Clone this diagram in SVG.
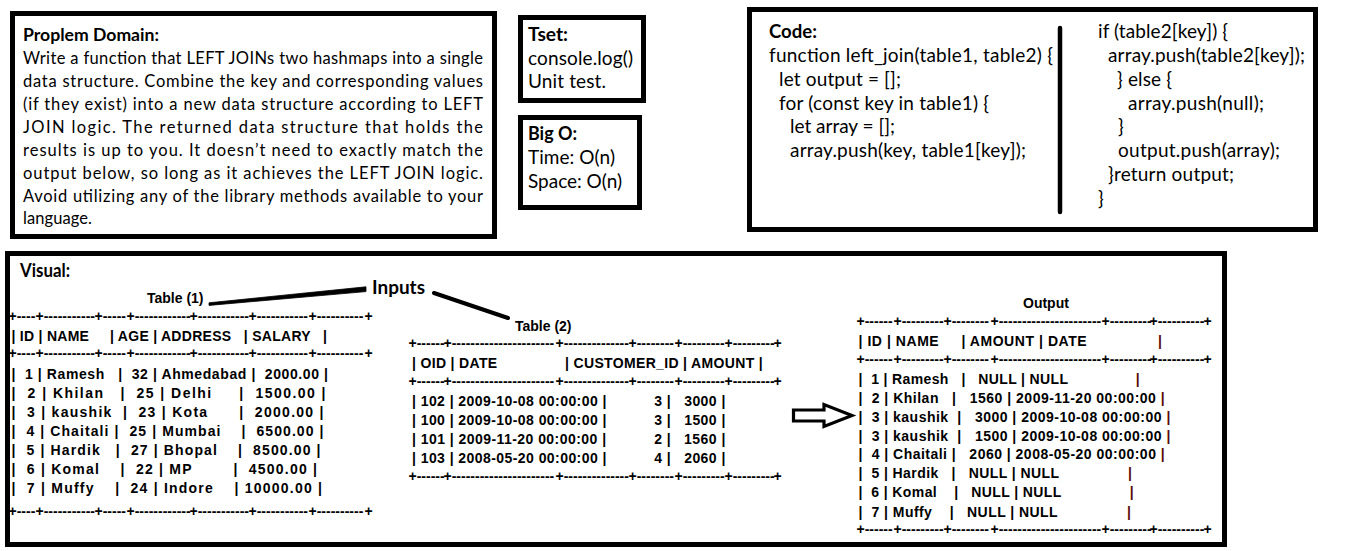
<svg xmlns="http://www.w3.org/2000/svg" width="1352" height="551" viewBox="0 0 1352 551">
<style>
.box{fill:#fff;stroke:#000;stroke-width:5}
.t{font-family:Lato,"Liberation Sans",sans-serif;fill:#000}
.p{font-size:16.5px}
.c{font-size:19px}
.b{font-weight:700}
.tb{font-family:"Liberation Sans",Arial,sans-serif;font-weight:700;font-size:14px;fill:#000;white-space:pre}
.end{fill:#5c0a0a}
.conn{fill:#000;stroke:#000}
</style>
<rect x="0" y="0" width="1352" height="551" fill="#fff"/>

<g id="problem-domain">
<rect class="box" x="12.5" y="13.5" width="482" height="223"/>
<text class="t p b" x="23" y="41" textLength="136" lengthAdjust="spacingAndGlyphs">Proplem Domain:</text>
<text class="t p" x="23" y="64" textLength="460" lengthAdjust="spacing">Write a function that LEFT JOINs two hashmaps into a single</text>
<text class="t p" x="23" y="87" textLength="460" lengthAdjust="spacing">data structure. Combine the key and corresponding values</text>
<text class="t p" x="23" y="110" textLength="460" lengthAdjust="spacing">(if they exist) into a new data structure according to LEFT</text>
<text class="t p" x="23" y="133" textLength="460" lengthAdjust="spacing">JOIN logic. The returned data structure that holds the</text>
<text class="t p" x="23" y="156" textLength="460" lengthAdjust="spacing">results is up to you. It doesn’t need to exactly match the</text>
<text class="t p" x="23" y="179" textLength="460" lengthAdjust="spacing">output below, so long as it achieves the LEFT JOIN logic.</text>
<text class="t p" x="23" y="202" textLength="460" lengthAdjust="spacing">Avoid utilizing any of the library methods available to your</text>
<text class="t p" x="23" y="224" textLength="69" lengthAdjust="spacing">language.</text>
</g>

<g id="test">
<rect class="box" x="520.5" y="17.5" width="123" height="83"/>
<text class="t c b" x="528" y="41" textLength="40" lengthAdjust="spacingAndGlyphs">Tset:</text>
<text class="t c" x="528" y="65" textLength="105" lengthAdjust="spacing">console.log()</text>
<text class="t c" x="528" y="88" textLength="78" lengthAdjust="spacing">Unit test.</text>
</g>

<g id="big-o">
<rect class="box" x="520.5" y="117.5" width="119" height="90"/>
<text class="t c b" x="528" y="140" textLength="49" lengthAdjust="spacingAndGlyphs">Big O:</text>
<text class="t c" x="528" y="164" textLength="87" lengthAdjust="spacing">Time: O(n)</text>
<text class="t c" x="528" y="188" textLength="94" lengthAdjust="spacing">Space: O(n)</text>
</g>

<g id="code">
<rect class="box" x="749.5" y="9.5" width="566" height="220"/>
<line x1="1060" y1="28" x2="1060" y2="212" stroke="#000" stroke-width="4.5" stroke-linecap="round"/>
<text class="t c b" x="769" y="38" textLength="48" lengthAdjust="spacingAndGlyphs">Code:</text>
<text class="t c" x="769" y="62" textLength="284" lengthAdjust="spacing">function left_join(table1, table2) {</text>
<text class="t c" x="779" y="86" textLength="122" lengthAdjust="spacing">let output = [];</text>
<text class="t c" x="779" y="110" textLength="210" lengthAdjust="spacing">for (const key in table1) {</text>
<text class="t c" x="790" y="133" textLength="105" lengthAdjust="spacing">let array = [];</text>
<text class="t c" x="790" y="157" textLength="236" lengthAdjust="spacing">array.push(key, table1[key]);</text>
<text class="t c" x="1098" y="38" textLength="130" lengthAdjust="spacing">if (table2[key]) {</text>
<text class="t c" x="1108" y="62" textLength="197" lengthAdjust="spacing">array.push(table2[key]);</text>
<text class="t c" x="1117" y="86" textLength="55" lengthAdjust="spacing">} else {</text>
<text class="t c" x="1128" y="110" textLength="136" lengthAdjust="spacing">array.push(null);</text>
<text class="t c" x="1118" y="133">}</text>
<text class="t c" x="1118" y="157" textLength="162" lengthAdjust="spacing">output.push(array);</text>
<text class="t c" x="1108" y="181" textLength="126" lengthAdjust="spacing">}return output;</text>
<text class="t c" x="1098" y="205">}</text>
</g>

<g id="visual">
<rect class="box" x="7.5" y="253.5" width="1217" height="291"/>
<text class="t b" font-size="18" x="20" y="277" textLength="50" lengthAdjust="spacingAndGlyphs">Visual:</text>
</g>

<g id="inputs-label">
<text class="t b" font-size="18" x="372" y="294" textLength="53" lengthAdjust="spacingAndGlyphs">Inputs</text>
</g>

<g id="table1">
<text class="tb" x="147" y="303">Table (1)</text>
<text class="tb" y="321"><tspan x="8.5">+----</tspan><tspan x="35.5">+-----------</tspan><tspan x="94.5">+-----</tspan><tspan x="126.5">+------------</tspan><tspan x="189.5">+-----------</tspan><tspan x="248.5">+-----------</tspan><tspan x="308.5">+----------</tspan><tspan x="364.5">+</tspan></text>
<text class="tb" xml:space="preserve" x="11.5" y="341" textLength="315.5" lengthAdjust="spacing">| ID | NAME     | AGE | ADDRESS   | SALARY   |</text>
<text class="tb" y="358"><tspan x="8.5">+----</tspan><tspan x="35.5">+-----------</tspan><tspan x="94.5">+-----</tspan><tspan x="126.5">+------------</tspan><tspan x="189.5">+-----------</tspan><tspan x="248.5">+-----------</tspan><tspan x="308.5">+----------</tspan><tspan x="364.5">+</tspan></text>
<text class="tb" xml:space="preserve" x="11.5" y="379" textLength="316.5" lengthAdjust="spacing">|  1 | Ramesh   |  32 | Ahmedabad |  2000.00 |</text>
<text class="tb" xml:space="preserve" x="11.5" y="398" textLength="314" lengthAdjust="spacing">|  2 | Khilan   |  25 | Delhi     |  1500.00 |</text>
<text class="tb" xml:space="preserve" x="11.5" y="417" textLength="312" lengthAdjust="spacing">|  3 | kaushik  |  23 | Kota      |  2000.00 |</text>
<text class="tb" xml:space="preserve" x="11.5" y="436" textLength="312" lengthAdjust="spacing">|  4 | Chaitali |  25 | Mumbai    |  6500.00 |</text>
<text class="tb" xml:space="preserve" x="11.5" y="455" textLength="309" lengthAdjust="spacing">|  5 | Hardik   |  27 | Bhopal    |  8500.00 |</text>
<text class="tb" xml:space="preserve" x="11.5" y="474" textLength="305.5" lengthAdjust="spacing">|  6 | Komal    |  22 | MP        |  4500.00 |</text>
<text class="tb" xml:space="preserve" x="11.5" y="493" textLength="310.5" lengthAdjust="spacing">|  7 | Muffy    |  24 | Indore    | 10000.00 |</text>
<text class="tb" y="516"><tspan x="8.5">+----</tspan><tspan x="35.5">+-----------</tspan><tspan x="94.5">+-----</tspan><tspan x="126.5">+------------</tspan><tspan x="189.5">+-----------</tspan><tspan x="248.5">+-----------</tspan><tspan x="308.5">+----------</tspan><tspan x="364.5">+</tspan></text>
</g>

<g id="table2">
<text class="tb" x="515" y="331">Table (2)</text>
<text class="tb" y="348"><tspan x="408.5">+------</tspan><tspan x="443.5">+----------------------</tspan><tspan x="555.5">+--------------</tspan><tspan x="628.5">+--------</tspan><tspan x="674.5">+---------</tspan><tspan x="724.5">+---------</tspan><tspan x="773.5">+</tspan></text>
<text class="tb" xml:space="preserve" x="412" y="368" textLength="350.7" lengthAdjust="spacing">| OID | DATE                | CUSTOMER_ID | AMOUNT |</text>
<text class="tb" y="386"><tspan x="408.5">+------</tspan><tspan x="443.5">+----------------------</tspan><tspan x="555.5">+--------------</tspan><tspan x="628.5">+--------</tspan><tspan x="674.5">+---------</tspan><tspan x="724.5">+---------</tspan><tspan x="773.5">+</tspan></text>
<text class="tb" xml:space="preserve" x="412" y="406" textLength="313.3" lengthAdjust="spacing">| 102 | 2009-10-08 00:00:00 |           3 |   3000 |</text>
<text class="tb" xml:space="preserve" x="412" y="425" textLength="313.3" lengthAdjust="spacing">| 100 | 2009-10-08 00:00:00 |           3 |   1500 |</text>
<text class="tb" xml:space="preserve" x="412" y="444" textLength="313.3" lengthAdjust="spacing">| 101 | 2009-11-20 00:00:00 |           2 |   1560 |</text>
<text class="tb" xml:space="preserve" x="412" y="463" textLength="313.3" lengthAdjust="spacing">| 103 | 2008-05-20 00:00:00 |           4 |   2060 |</text>
<text class="tb" y="481"><tspan x="408.5">+------</tspan><tspan x="443.5">+----------------------</tspan><tspan x="555.5">+--------------</tspan><tspan x="628.5">+--------</tspan><tspan x="674.5">+---------</tspan><tspan x="724.5">+---------</tspan><tspan x="773.5">+</tspan></text>
</g>

<g id="output">
<text class="tb" x="1023" y="308">Output</text>
<text class="tb" y="326"><tspan x="856.5">+------</tspan><tspan x="893.5">+---------</tspan><tspan x="943.5">+--------</tspan><tspan x="990.5">+----------------------</tspan><tspan x="1101.5">+---------</tspan><tspan x="1149.5">+----------</tspan><tspan x="1203.5">+</tspan></text>
<text class="tb" xml:space="preserve" x="858.5" y="346" textLength="303.5" lengthAdjust="spacing">| ID | NAME     | AMOUNT | DATE                <tspan class="end">|</tspan></text>
<text class="tb" y="364"><tspan x="856.5">+------</tspan><tspan x="893.5">+---------</tspan><tspan x="943.5">+--------</tspan><tspan x="990.5">+----------------------</tspan><tspan x="1101.5">+---------</tspan><tspan x="1149.5">+----------</tspan><tspan x="1203.5">+</tspan></text>
<text class="tb" xml:space="preserve" x="858.5" y="384" textLength="281.2" lengthAdjust="spacing">|  1 | Ramesh   |   NULL | NULL                <tspan class="end">|</tspan></text>
<text class="tb" xml:space="preserve" x="858.5" y="403" textLength="306.2" lengthAdjust="spacing">|  2 | Khilan   |   1560 | 2009-11-20 00:00:00 <tspan class="end">|</tspan></text>
<text class="tb" xml:space="preserve" x="858.5" y="422" textLength="311.8" lengthAdjust="spacing">|  3 | kaushik  |   3000 | 2009-10-08 00:00:00 <tspan class="end">|</tspan></text>
<text class="tb" xml:space="preserve" x="858.5" y="441" textLength="311.8" lengthAdjust="spacing">|  3 | kaushik  |   1500 | 2009-10-08 00:00:00 <tspan class="end">|</tspan></text>
<text class="tb" xml:space="preserve" x="858.5" y="459" textLength="306.2" lengthAdjust="spacing">|  4 | Chaitali |   2060 | 2008-05-20 00:00:00 <tspan class="end">|</tspan></text>
<text class="tb" xml:space="preserve" x="858.5" y="478" textLength="273.5" lengthAdjust="spacing">|  5 | Hardik   |   NULL | NULL                <tspan class="end">|</tspan></text>
<text class="tb" xml:space="preserve" x="858.5" y="497" textLength="275.2" lengthAdjust="spacing">|  6 | Komal    |   NULL | NULL                <tspan class="end">|</tspan></text>
<text class="tb" xml:space="preserve" x="858.5" y="517" textLength="272.5" lengthAdjust="spacing">|  7 | Muffy    |   NULL | NULL                <tspan class="end">|</tspan></text>
<text class="tb" y="534"><tspan x="856.5">+------</tspan><tspan x="893.5">+---------</tspan><tspan x="943.5">+--------</tspan><tspan x="990.5">+----------------------</tspan><tspan x="1101.5">+---------</tspan><tspan x="1149.5">+----------</tspan><tspan x="1203.5">+</tspan></text>
</g>

<g id="connectors">
<polygon class="conn" stroke-width="0.8" stroke-linejoin="round" points="209,302.8 366,286.8 366,291.6 209,305.4"/>
<line x1="434" y1="293" x2="508" y2="318" stroke="#000" stroke-width="4" stroke-linecap="round"/>
<path d="M793.5,410 L824,410 L824,404.5 L852,415.5 L824,426.5 L824,421 L793.5,421 Z" fill="#fff" stroke="#000" stroke-width="3.2" stroke-linejoin="miter"/>
</g>
</svg>
